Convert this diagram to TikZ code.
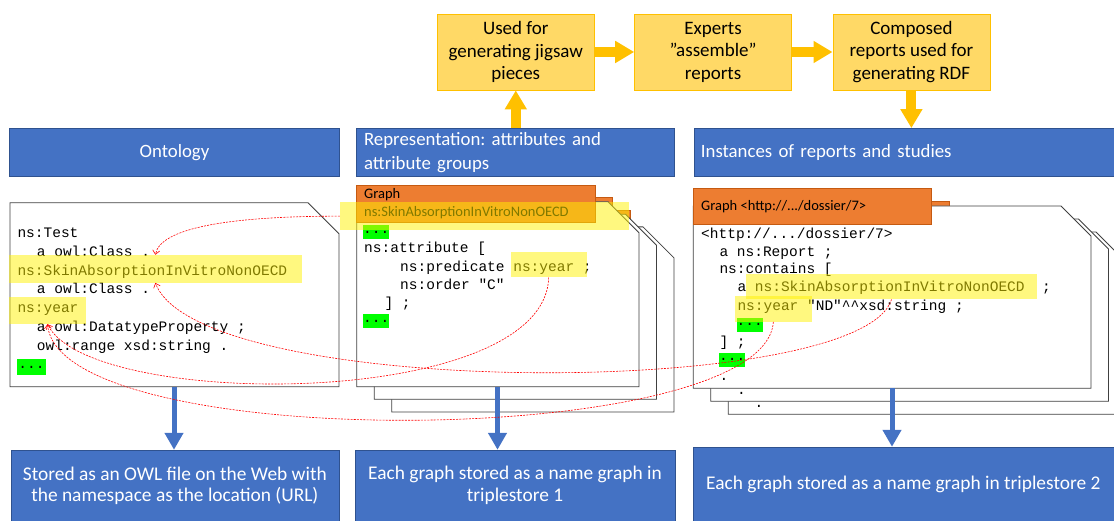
\documentclass[tikz,border=0pt]{standalone}
\usepackage{fontspec}
\setmainfont{Carlito}
\newfontfamily\codefont{Liberation Mono}
\usetikzlibrary{arrows.meta,positioning,calc}
\usepackage{xcolor}
\definecolor{boxblue}{RGB}{68,114,196}
\definecolor{boxblueedge}{RGB}{47,82,143}
\definecolor{jigsawgold}{RGB}{255,217,102}
\definecolor{jigsawedge}{RGB}{255,192,0}
\definecolor{graphorange}{RGB}{237,125,49}
\definecolor{graphedge}{RGB}{197,90,17}
\definecolor{markgreen}{RGB}{0,255,0}
\definecolor{linkred}{RGB}{255,0,0}
\definecolor{pageline}{RGB}{64,64,64}
\frenchspacing

\tikzset{
  bluebox/.style={draw=boxblueedge, fill=boxblue, text=white, inner sep=0pt, font=\fontsize{18.8}{23.3}\selectfont},
  goldbox/.style={draw=jigsawedge, fill=jigsawgold, line width=0.8pt, align=center, minimum width=157pt, minimum height=76pt, inner sep=0pt, font=\fontsize{19}{22.5}\selectfont},
  goldarrow/.style={jigsawedge, line width=10pt, -{Triangle[length=19pt,width=21pt]}},
  bluearrow/.style={boxblue, line width=5pt, -{Triangle[length=17pt,width=18pt]}},
  pagebody/.style={draw=pageline, fill=white, line width=0.8pt},
  graphtab/.style={draw=graphedge, fill=graphorange, line width=0.6pt},
  tabtext/.style={anchor=base west, inner sep=0pt, font=\fontsize{14.5}{17}\selectfont},
  codeline/.style={anchor=base west, inner sep=0pt, font=\codefont\fontsize{14.5}{18}\selectfont},
  hilite/.style={fill=yellow, fill opacity=0.5, inner sep=0pt},
  greendots/.style={fill=markgreen, inner sep=0pt, font=\codefont\fontsize{14.5}{18}\selectfont},
  reflink/.style={linkred, line width=0.6pt, dash pattern=on 2pt off 1.2pt, -{Straight Barb[length=4pt,width=7pt]}}
}

% page with a folded corner: x, y, width, height, corner
\newcommand{\docpage}[5]{%
  \filldraw[pagebody] (#1,#2) -- ++(#3-#5,0) -- ++(#5,#5) -- (#1+#3,#2+#4) -- (#1,#2+#4) -- cycle;}

\begin{document}
\begin{tikzpicture}[x=1pt, y=-1pt]
    \useasboundingbox (0,0) rectangle (1114,521);
    \clip (0,0) rectangle (1114,521);

    % Jigsaw workflow
    \node[goldbox] (used) at (515.8,52) {Used for\\generating jigsaw\\pieces};
    \node[goldbox, right=39.5pt of used] (experts) {Experts\\”assemble”\\reports};
    \node[goldbox, right=40.5pt of experts] (composed) {Composed\\reports used for\\generating RDF};
    \draw[goldarrow] (used) -- (experts);
    \draw[goldarrow] (experts) -- (composed);

    % Column headers
    \node[bluebox, minimum width=330pt, minimum height=48.4pt] (onto) at (174.5,152.5) {Ontology};
    \node[bluebox, text width=303pt, inner xsep=7.5pt, minimum height=48.4pt, align=left] (repr) at (515.6,152.5) {Representation: attributes and\\attribute groups};
    \node[bluebox, text width=406pt, inner xsep=7pt, minimum height=48.4pt, align=left] (inst) at (903.9,152.5) {Instances of reports and studies};
    \draw[goldarrow] (used.south |- repr.north) -- (used.south);
    \draw[goldarrow] (composed.south) -- (composed.south |- inst.north);

    % Ontology file
    \docpage{10}{202.7}{329}{184}{31}
    \node[codeline] (o1) at (17.3,237.2) {ns:Test};
    \node[codeline] (o2) at (36.7,256.2) {a owl:Class .};
    \node[codeline] (o3) at (17.3,275.2) {ns:SkinAbsorptionInVitroNonOECD};
    \node[codeline] (o4) at (36.7,293.8) {a owl:Class .};
    \node[codeline] (o5) at (17.3,312.8) {ns:year};
    \node[codeline] (o6) at (36.7,331.2) {a owl:DatatypeProperty ;};
    \node[codeline] (o7) at (36.7,350.2) {owl:range xsd:string .};
    \node[greendots, minimum width=28.4pt, minimum height=15.4pt] (moreO) at (31.5,367) {...};
    \node[hilite, minimum width=292.7pt, minimum height=27.7pt] (hlSkinL) at (155.35,268.85) {};
    \node[hilite, minimum width=77pt, minimum height=27pt] (hlYearL) at (47.5,310.5) {};

    % Attribute graphs
    \foreach \k in {2,1,0} {
        \docpage{356.7+17.5*\k}{201.7+12.6*\k}{282.3}{185}{31}
        \filldraw[graphtab] (356.7+17.5*\k,185+12.6*\k) rectangle (595+17.5*\k,222.3+12.6*\k);
    }
    \node[tabtext] (gM) at (364,198.5) {Graph};
    \node[tabtext] (gMname) at (364,216.8) {ns:SkinAbsorptionInVitroNonOECD};
    \node[greendots, minimum width=25.7pt, minimum height=14pt] (moreM1) at (376.2,232) {...};
    \node[codeline] (m1) at (364,252.2) {ns:attribute [};
    \node[codeline] (m2) at (400,271.2) {ns:predicate ns:year ;};
    \node[codeline] (m3) at (400,289.5) {ns:order "C"};
    \node[codeline] (m4) at (384.3,307.8) {] ;};
    \node[greendots, minimum width=25.7pt, minimum height=14pt] (moreM2) at (376.2,321.3) {...};
    \node[hilite, minimum width=289.3pt, minimum height=27.7pt] (hlSkinM) at (484.65,216.15) {};
    \node[hilite, minimum width=76pt, minimum height=25.6pt] (hlYearM) at (548.7,264.5) {};

    % Report instances
    \docpage{728.3}{232}{397.7}{182.3}{30}
    \docpage{710.8}{219}{397.7}{182.3}{30}
    \filldraw[graphtab] (710.8,201) rectangle (949.2,237);
    \docpage{693.3}{206}{397.7}{182.3}{30}
    \filldraw[graphtab] (693.3,188.3) rectangle (931.7,224.3);
    \node[tabtext] (gR) at (701,211) {Graph <http://.../dossier/7>};
    \node[codeline] (r1) at (701,238.8) {<http://.../dossier/7>};
    \node[codeline] (r2) at (719.3,256.2) {a ns:Report ;};
    \node[codeline] (r3) at (719.3,273.8) {ns:contains [};
    \node[codeline] (r4) at (737.3,291.8) {a ns:SkinAbsorptionInVitroNonOECD\ \ ;};
    \node[codeline] (r5) at (737.3,310.5) {ns:year "ND"\textasciicircum\textasciicircum xsd:string ;};
    \node[greendots, minimum width=26pt, minimum height=13.7pt] (moreR1) at (749.7,324.9) {...};
    \node[codeline] (r6) at (719.3,346.8) {] ;};
    \node[greendots, minimum width=26pt, minimum height=14pt] (moreR2) at (732.2,359.7) {...};
    \node[codeline] (r7) at (719.3,380.8) {.};
    \node[codeline] (r8) at (736.8,394.2) {.};
    \node[codeline] (r9) at (754.3,407.5) {.};
    \node[hilite, minimum width=291.6pt, minimum height=25.3pt] (hlSkinR) at (891.5,286.65) {};
    \node[hilite, minimum width=76.7pt, minimum height=25.7pt] (hlYearR) at (773.35,308.85) {};

    % Storage
    \node[bluebox, minimum width=328.3pt, minimum height=71pt, align=center, font=\fontsize{19.4}{21}\selectfont] (stored) at (174.85,485.5) {Stored as an OWL file on the Web with\\the namespace as the location (URL)};
    \node[bluebox, minimum width=320pt, minimum height=71pt, align=center, font=\fontsize{19.4}{21.5}\selectfont] (store1) at (515,485.5) {Each graph stored as a name graph in\\triplestore 1};
    \node[bluebox, minimum width=421.3pt, minimum height=74pt, align=center, font=\fontsize{19.4}{21}\selectfont] (store2) at (903.35,484) {Each graph stored as a name graph in triplestore 2};
    \coordinate (ontofoot) at (174,386.7);
    \coordinate (reprfoot) at (497.5,386.7);
    \coordinate (instfoot) at (892,388.3);
    \draw[bluearrow] (ontofoot) -- (ontofoot |- stored.north);
    \draw[bluearrow] (reprfoot) -- (reprfoot |- store1.north);
    \draw[bluearrow] (instfoot) -- (instfoot |- store2.north);

    % References back to the ontology
    \draw[reflink] (hlSkinM.west) .. controls +(-110,0) and +(5,-27) .. (hlSkinL.north);
    \draw[reflink] (hlSkinR.south) .. controls +(-31,100) and +(45,117) .. (hlSkinL.south);
    \draw[reflink] (hlYearM.south) .. controls +(-4,133) and +(42,86) .. (hlYearL.south);
    \draw[reflink] (hlYearR.south) .. controls +(-8,128) and +(12,131) .. (hlYearL.south);
\end{tikzpicture}
\end{document}
